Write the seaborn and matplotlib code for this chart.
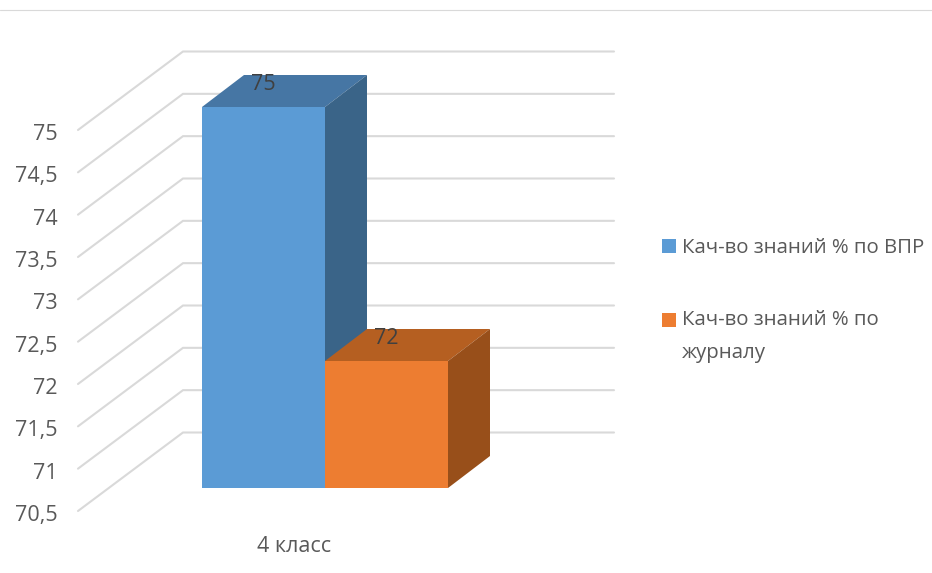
import matplotlib
matplotlib.use("Agg")
import matplotlib.pyplot as plt
from matplotlib.lines import Line2D
from matplotlib.transforms import ScaledTranslation
import pandas as pd
import seaborn as sns

classes = ["4 класс", "4 класс"]
series = ["Кач-во знаний % по ВПР", "Кач-во знаний % по\nжурналу"]
values = [75, 72]
y_ticks = [70.5, 71, 71.5, 72, 72.5, 73, 73.5, 74, 74.5, 75]
y_tick_labels = ["70,5", "71", "71,5", "72", "72,5", "73", "73,5", "74", "74,5", "75"]

front_colors = ["#5B9BD5", "#ED7D31"]
top_colors = ["#4676A4", "#B55F21"]
side_colors = ["#3A6488", "#984F1A"]
grid_color = "#D9D9D9"
text_color = "#595959"

W, H, DPI = 932, 573, 100
FONT_SIZE = 15.5
LEGEND_SIZE = 14.7

sns.set_theme(style="white")
plt.rcParams["font.family"] = ["Open Sans", "DejaVu Sans"]

df = pd.DataFrame({"klass": classes, "series": series, "value": values})

fig = plt.figure(figsize=(W / DPI, H / DPI), dpi=DPI)
# axes = the plane of the bar fronts, in pixels of the reference
ax = fig.add_axes([78 / W, 1 - 488 / H, (614 - 78) / W, (488 - 107) / H])

sns.barplot(data=df, x="klass", y="value", hue="series", palette=front_colors,
            width=0.8, gap=0, saturation=1, errorbar=None, linewidth=0, ax=ax, zorder=3)

px_x = 123 / 0.4
ax.set_xlim((78 - 325) / px_x, (614 - 325) / px_x)
ax.set_ylim(70.5, 75)
px_y = (488 - 107) / 4.5
sns.despine(ax=ax, left=True, bottom=True)

# walls: every grid line goes from the front edge back and then to the right
x0, x1 = ax.get_xlim()
x_back = x0 + 105 / px_x
for v in y_ticks:
    ax.plot([x0, x_back, x1], [v - 23 / px_y, v + 55.5 / px_y, v + 55.5 / px_y],
            color=grid_color, lw=1.5, clip_on=False, zorder=0, solid_joinstyle="miter")

# fake 3d depth of the bars
dx, dy = 42 / px_x, 32 / px_y
bars = [b for c in ax.containers for b in c]
for i, bar in enumerate(bars):
    left = bar.get_x()
    right = left + bar.get_width()
    top = bar.get_height()
    base = y_ticks[0]
    bar.set_zorder(3 + 2 * i)
    ax.fill([left, left + dx, right + dx, right], [top, top + dy, top + dy, top],
            color=top_colors[i], lw=0, clip_on=False, zorder=2 + 2 * i)
    ax.fill([right, right + dx, right + dx, right], [base, base + dy, top + dy, top],
            color=side_colors[i], lw=0, clip_on=False, zorder=2 + 2 * i)

for c in ax.containers:
    for t in ax.bar_label(c, fmt="%g", padding=9, fontsize=FONT_SIZE, color="#404040"):
        t.set_zorder(10)

ax.set_xlabel("")
ax.set_ylabel("")
ax.set_yticks(y_ticks, y_tick_labels)
ax.tick_params(axis="both", length=0, labelsize=FONT_SIZE, labelcolor=text_color)
ax.tick_params(axis="y", pad=15)
ax.tick_params(axis="x", pad=34.5)

# tick labels sit in front of the bar plane
for lab in ax.get_yticklabels():
    lab.set_transform(lab.get_transform() + ScaledTranslation(0, -25 / DPI, fig.dpi_scale_trans))
for lab in ax.get_xticklabels():
    lab.set_transform(lab.get_transform() + ScaledTranslation(-31 / DPI, 0, fig.dpi_scale_trans))

leg = ax.legend(loc="upper left", bbox_to_anchor=(662 / W, 1 - 238 / H),
                bbox_transform=fig.transFigure, frameon=False, fontsize=LEGEND_SIZE,
                labelcolor=text_color, handlelength=0.68, handleheight=0.68,
                handletextpad=0.3, labelspacing=2.55, borderpad=0, borderaxespad=0)
for t in leg.get_texts():
    t.set_linespacing(1.85)
leg.get_patches()[1].set_y(12)

fig.add_artist(Line2D([0, 1], [1 - 10 / H, 1 - 10 / H], color=grid_color, lw=0.8))

fig.savefig("out.png", dpi=DPI)
